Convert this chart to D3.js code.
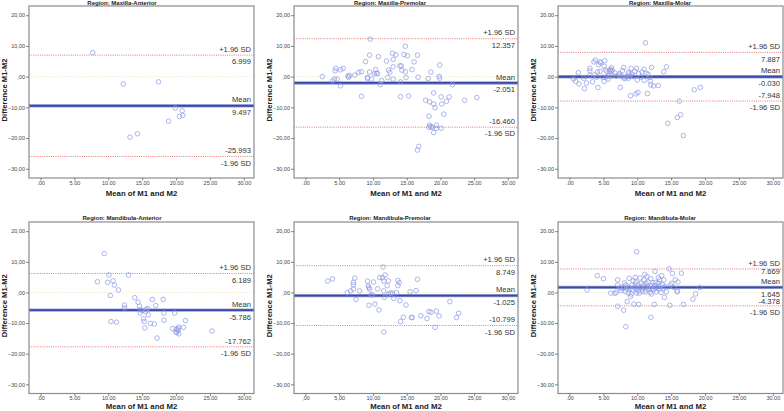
<!DOCTYPE html>
<html><head><meta charset="utf-8">
<script src="https://cdn.jsdelivr.net/npm/d3@7"></script>
<style>body{margin:0;background:#fff}svg{display:block}text{font-family:"Liberation Sans",Arial,sans-serif}</style>
</head><body>
<svg id="c" width="784" height="411"></svg>
<script>
const titles = ["Region: Maxilla-Anterior","Region: Maxilla-Premolar","Region: Maxilla-Molar",
                "Region: Mandibula-Anterior","Region: Mandibula-Premolar","Region: Mandibula-Molar"];
const upperVals = [6.999, 12.357, 7.887, 6.189, 8.749, 7.669];
const meanVals  = [-9.497, -2.051, -0.030, -5.786, -1.025, 1.645];
const lowerVals = [-25.993, -16.460, -7.948, -17.762, -10.799, -4.378];
const upperLabels = ["6.999","12.357","7.887","6.189","8.749","7.669"];
const meanLabels  = ["9.497","-2.051","-0.030","-5.786","-1.025","1.645"];
const lowerLabels = ["-25.993","-16.460","-7.948","-17.762","-10.799","-4.378"];
const xTicks = [0,5,10,15,20,25,30];
const yTicks = [20,10,0,-10,-20,-30];
const ySep = [",",",",".",",",",","."];
const xSep = [".",".",".",".",",","."];

const maxAnt = [[7.7,7.8],[12.2,-2.4],[17.4,-1.7],[19.9,-10.2],[20.9,-11.1],[21.0,-12.6],[20.5,-13.0],[18.9,-14.5],[14.3,-18.6],[13.2,-19.7]];
const maxPre = [[2.5,0],[4.4,1.9],[4.5,2.7],[4.0,-1.4],[4.3,-0.8],[4.7,-0.8],[5.2,2.2],[5.6,2.7],[5.2,-3.0],[6.3,0.2],[6.4,-0.2],[6.5,0.4],[7.3,0.5],[7.9,1.4],[8.3,1.6],[8.3,-6.4],[8.9,4.9],[9.2,-0.2],[9.2,-0.6],[9.5,7.0],[9.6,12.2],[9.5,1.5],[9.8,-0.8],[10.2,0.9],[10.4,2.3],[10.5,1.1],[10.7,1.0],[10.8,6.5],[11.1,-2.6],[11.3,-1.3],[12.0,5.1],[12.2,-0.3],[12.3,2.1],[12.5,1.4],[12.9,7.6],[13.0,5.6],[13.0,3.2],[13.0,-0.8],[13.4,7.1],[14.0,3.5],[14.1,-1.7],[14.1,-6.5],[14.2,3.5],[14.3,2.1],[14.6,7.2],[14.8,9.9],[14.8,1.6],[14.9,-0.3],[15.1,6.8],[15.3,-6.3],[15.8,2.3],[16.1,4.8],[16.6,7.0],[16.7,-0.2],[17.8,-7.7],[18.2,-0.6],[18.4,-8.2],[18.3,-12.9],[18.4,-15.8],[18.6,1.5],[18.6,-16.3],[18.8,-16.5],[18.3,-16.5],[19.0,-5.3],[19.0,-8.9],[19.2,-10.1],[19.0,-18.2],[19.4,-15.8],[19.4,-16.8],[19.8,0.1],[19.9,3.8],[19.9,-0.5],[20.1,-6.6],[20.2,-8.9],[20.1,-16.8],[20.5,-12.2],[20.9,-8.0],[21.3,-6.6],[21.8,-2.6],[23.6,-7.7],[25.4,-6.8],[16.8,-22.7],[16.6,-23.9]];
const maxMol = [[0.6,-0.8],[0.9,-1.5],[1.3,1.3],[1.4,-2.4],[2.1,-0.5],[2.2,-3.9],[2.5,-2.1],[3.0,0.4],[3.0,2.7],[3.0,1.9],[3.4,-1.7],[3.6,4.8],[3.8,5.4],[3.7,0.6],[4.0,-0.2],[4.1,1.5],[4.2,-3.5],[4.3,3.9],[4.5,4.8],[4.6,4.5],[4.5,1.7],[4.9,-0.2],[5.1,-1.6],[5.1,3.4],[5.2,5.2],[5.3,2.2],[5.4,-0.1],[5.5,1.7],[5.7,-0.8],[5.8,0.3],[5.9,1.6],[6.0,2.3],[6.1,1.9],[6.2,2.9],[6.3,2.1],[6.4,0.4],[6.7,1.2],[6.9,0.2],[7.3,0.5],[7.4,1.0],[7.5,-3.5],[7.6,0.3],[7.8,1.9],[8.0,3.0],[8.0,-0.4],[8.2,-0.6],[8.4,0.1],[8.7,1.4],[8.7,-0.5],[8.8,0.9],[8.9,0.1],[9.0,-6.2],[9.1,2.7],[9.2,0.9],[9.4,0],[9.6,1.7],[9.8,-5.6],[9.9,2.7],[10.0,-1.1],[10.1,-5.1],[10.2,1.0],[10.5,-0.2],[10.7,1.5],[11.0,-1.2],[11.0,2.4],[11.2,11.0],[11.3,1.1],[11.5,-5.5],[11.6,0.8],[11.8,-0.3],[11.9,-1.4],[12.0,-2.7],[12.1,3.0],[12.4,-3.0],[13.1,-2.9],[13.9,1.6],[14.3,3.2],[14.5,-15.2],[16.2,-8.0],[16.4,-12.4],[15.9,-13.3],[16.8,-19.2],[18.4,-4.3],[19.3,-3.5]];
const manAnt = [[8.4,3.5],[9.4,12.7],[9.9,3.3],[10.1,5.7],[10.3,-1.0],[10.4,-9.5],[10.7,3.8],[10.9,2.4],[11.2,-9.7],[11.5,0.8],[12.4,-4.1],[12.4,-5.1],[13.0,5.7],[13.9,-1.7],[14.4,-3.2],[14.6,-4.5],[14.7,-5.6],[14.7,-6.7],[15.0,-5.9],[15.2,-8.6],[15.3,-9.5],[15.4,-11.6],[15.5,-6.2],[15.6,-5.6],[15.8,-5.2],[15.9,-7.3],[16.2,-10.1],[16.5,-2.3],[16.8,-10.3],[17.0,-4.3],[17.2,-14.9],[18.1,-2.3],[18.2,-6.7],[18.2,-9.1],[19.8,-6.7],[19.5,-11.8],[20.0,-12.0],[20.0,-12.9],[20.1,-13.1],[20.3,-11.8],[20.3,-12.4],[20.4,-11.3],[20.4,-13.5],[21.1,-11.4],[21.4,-9.2],[25.3,-12.6]];
const manPre = [[3.3,3.7],[4.0,4.4],[6.2,-0.1],[6.7,0.5],[7.1,3.3],[7.1,2.5],[7.1,1.1],[7.3,4.7],[7.5,-2.3],[8.0,0.5],[9.2,3.7],[9.3,2.2],[9.4,1.6],[9.5,1.1],[9.4,-4.2],[9.7,-0.8],[9.9,-0.8],[10.1,3.4],[10.3,-3.8],[10.7,1.2],[10.9,-5.7],[11.0,4.9],[11.4,4.8],[11.5,8.3],[11.6,3.7],[11.6,0.5],[11.7,-1.6],[11.6,-12.9],[11.8,5.7],[12.1,2.2],[12.3,3.8],[12.3,-0.5],[12.6,-0.2],[12.9,-0.2],[13.1,-2.0],[13.5,-0.1],[13.7,2.2],[13.7,3.9],[13.9,3.2],[14.0,-2.7],[14.1,-9.5],[14.5,-8.1],[14.9,-4.1],[15.5,0.2],[15.7,-8.2],[15.8,-8.2],[16.4,0.6],[16.6,4.3],[17.1,-7.6],[18.0,-8.5],[18.3,-6.2],[18.6,-6.5],[19.2,-11.4],[19.4,-6.1],[19.8,-7.7],[21.4,-3.0],[22.4,-8.2],[22.7,-6.8]];
const manMol = [[2.6,0.8],[4.1,5.5],[5.0,4.5],[6.1,-0.2],[6.7,-0.3],[6.9,0.1],[7.1,4.1],[7.1,2.4],[7.1,-4.5],[7.5,1.5],[7.6,0.6],[7.8,1.4],[8.0,1.6],[8.0,-5.8],[8.1,3.1],[8.2,0.3],[8.3,-11.2],[8.3,2.4],[8.4,1.1],[8.5,-3.0],[8.7,-0.2],[8.7,1.8],[8.8,4.6],[8.9,1.1],[9.0,-1.3],[9.1,-0.5],[9.2,2.4],[9.3,0.8],[9.4,3.8],[9.5,-3.8],[9.6,1.8],[9.7,4.9],[9.8,1.1],[9.8,3.4],[9.9,13.3],[9.9,-0.2],[10.0,1.7],[10.1,0.5],[10.1,2.6],[10.2,-3.9],[10.3,-0.2],[10.4,4.7],[10.5,1.6],[10.6,3.0],[10.7,1.1],[10.8,0.3],[10.9,2.4],[11.0,4.1],[11.1,5.9],[11.1,1.6],[11.2,0.2],[11.3,3.0],[11.4,5.2],[11.5,1.9],[11.6,0.9],[11.6,3.4],[11.8,1.4],[11.9,0],[12.0,4.5],[12.0,-8.1],[12.1,2.2],[12.1,-0.5],[12.2,1.3],[12.3,3.2],[12.4,0.9],[12.5,-3.9],[12.6,6.9],[12.6,2.2],[12.7,3.2],[12.8,0.2],[12.9,1.5],[13.1,4.8],[13.1,3.0],[13.2,1.1],[13.3,4.1],[13.4,2.2],[13.5,0],[13.6,5.5],[13.7,2.6],[13.8,1.3],[13.9,4.1],[14.0,-1.6],[14.1,1.9],[14.3,0.2],[14.7,7.7],[14.8,-4.2],[14.9,2.4],[15.1,3.0],[15.2,6.2],[15.4,1.6],[15.6,4.1],[15.9,0.5],[16.0,3.4],[15.9,0.2],[16.5,6.3],[16.8,-3.9],[18.2,-2.2],[18.6,-0.5],[19.2,1.6]];
const panelPoints = [maxAnt, maxPre, maxMol, manAnt, manPre, manMol];

const colFrames = [[29,254],[294,518],[558,783]];
const rowFrames = [[178,6],[393.5,222]];
const titleX = [122,390,660];
const titleY = [4.8,220];
const xTitleOff = [17.5,15.3];

const svg = d3.select("#c");
const fmt = (v, sep) => { let s = d3.format(".2f")(v); s = s.replace(/^(-?)0\./, "$1."); return s.replace(".", sep); };

for (let i = 0; i < 6; i++) {
  const col = i % 3, row = Math.floor(i / 3);
  const [x0, x1] = colFrames[col];
  const [yb, yt] = rowFrames[row];
  const x = d3.scaleLinear().domain([-1.7, 31.5]).range([x0, x1]);
  const y = d3.scaleLinear().domain([-33, 23]).range([yb, yt]);
  const g = svg.append("g");

  g.append("rect").attr("x", x0).attr("y", yt).attr("width", x1 - x0).attr("height", yb - yt)
    .attr("fill", "#fff");

  g.append("line").attr("x1", x0).attr("x2", x1).attr("y1", y(0)).attr("y2", y(0))
    .attr("stroke", "#efe6b8").attr("stroke-width", 0.8).attr("stroke-dasharray", "1,1.2");

  [upperVals[i], lowerVals[i]].forEach(v => {
    g.append("line").attr("x1", x0).attr("x2", x1).attr("y1", y(v)).attr("y2", y(v))
      .attr("stroke", "#e46a6a").attr("stroke-width", 0.9).attr("stroke-dasharray", "1,1.2");
  });
  g.append("line").attr("x1", x0).attr("x2", x1).attr("y1", y(meanVals[i])).attr("y2", y(meanVals[i]))
    .attr("stroke", "#9aa3d8").attr("stroke-width", 3.4);
  g.append("line").attr("x1", x0).attr("x2", x1).attr("y1", y(meanVals[i])).attr("y2", y(meanVals[i]))
    .attr("stroke", "#3a49a3").attr("stroke-width", 1.8);

  g.selectAll("circle.p").data(panelPoints[i]).join("circle")
    .attr("cx", d => x(d[0])).attr("cy", d => y(d[1])).attr("r", 2.3)
    .attr("fill", "none").attr("stroke", "#8d99e4").attr("stroke-width", 0.8).attr("stroke-opacity", 0.9);

  g.append("rect").attr("x", x0).attr("y", yt).attr("width", x1 - x0).attr("height", yb - yt)
    .attr("fill", "none").attr("stroke", "#8c8c8c").attr("stroke-width", 1.2);

  const ya = g.append("g").attr("transform", `translate(${x0},0)`)
    .call(d3.axisLeft(y).tickValues(yTicks).tickSize(3).tickPadding(1).tickFormat(v => fmt(v, ySep[i])));
  const xa = g.append("g").attr("transform", `translate(0,${yb})`)
    .call(d3.axisBottom(x).tickValues(xTicks).tickSize(2.5).tickPadding(0.5).tickFormat(v => fmt(v, xSep[i])));
  [ya, xa].forEach(a => {
    a.select(".domain").remove();
    a.selectAll("line").attr("stroke", "#666").attr("stroke-width", 0.8);
    a.selectAll("text").attr("font-size", 5.5).attr("fill", "#444")
      .attr("font-family", '"Liberation Sans",Arial,sans-serif');
  });

  // limit labels with simple crowding rule
  const lx = x1 - 3;
  const lab = (txt, yy) => g.append("text").attr("x", lx).attr("y", yy).attr("text-anchor", "end")
    .attr("font-size", 7.6).attr("fill", "#333").text(txt);
  const meanAbove = y(meanVals[i]) - 3.4;
  const meanBelow = y(meanVals[i]) + 9.4;
  const upValY = Math.min(y(upperVals[i]) + 9.2, meanAbove - 10);
  const loValY = Math.max(y(lowerVals[i]) - 3.2, meanBelow + 6.8);
  lab("+1.96 SD", y(upperVals[i]) - 3.2);
  lab(upperLabels[i], upValY);
  lab("Mean", meanAbove);
  lab(meanLabels[i], meanBelow);
  lab(lowerLabels[i], loValY);
  lab("-1.96 SD", y(lowerVals[i]) + 9.2);

  g.append("text").attr("x", titleX[col]).attr("y", titleY[row]).attr("text-anchor", "middle")
    .attr("font-size", 6).attr("font-weight", "bold").attr("fill", "#222").text(titles[i]);
  g.append("text").attr("x", (x0 + x1) / 2).attr("y", yb + xTitleOff[row]).attr("text-anchor", "middle")
    .attr("font-size", 7.8).attr("font-weight", "bold").attr("fill", "#222").text("Mean of M1 and M2");
  const cy = (yt + yb) / 2 - 2;
  g.append("text").attr("transform", `translate(${x0 - 22},${cy}) rotate(-90)`).attr("text-anchor", "middle")
    .attr("font-size", 7.6).attr("font-weight", "bold").attr("fill", "#222").text("Difference M1-M2");
}
</script>
</body></html>
